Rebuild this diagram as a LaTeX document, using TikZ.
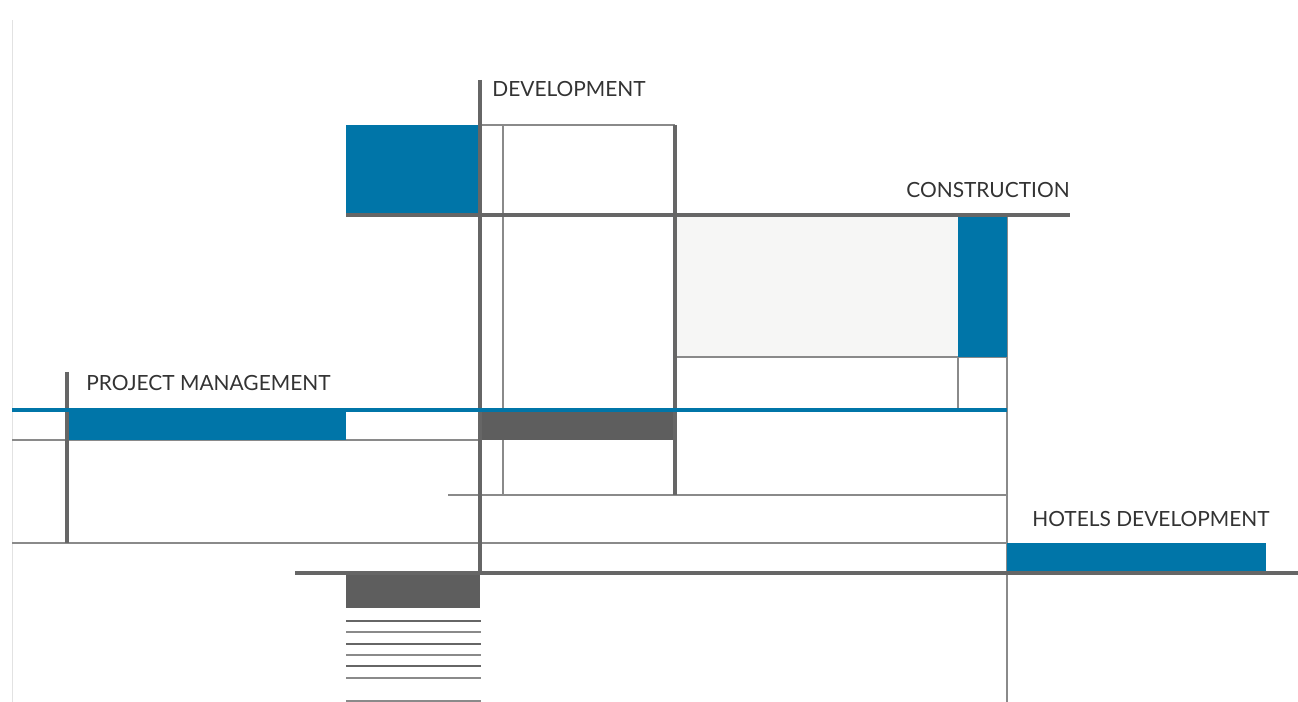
\documentclass[tikz,border=0pt]{standalone}
\usepackage{fontspec}
\setmainfont{Lato}
\usetikzlibrary{positioning}

\definecolor{pblue}{HTML}{0075A8}
\definecolor{pdark}{HTML}{5E5E5E}
\definecolor{pline}{HTML}{666666}
\definecolor{pthin}{HTML}{8A8A8A}
\definecolor{pfill}{HTML}{F6F6F5}

\begin{document}
\begin{tikzpicture}[x=0.02cm, y=-0.02cm]

        % styles for the grid of lines and blocks
        \tikzset{
            heavy/.style={pline, line width=1.9pt},
            light/.style={pthin, line width=0.8pt},
            bluebar/.style={fill=pblue, draw=none},
            greybar/.style={fill=pdark, draw=none},
            caption/.style={inner sep=0pt, anchor=base west, text=black!80,
                font=\fontsize{11.9}{14}\selectfont}
        }

        \useasboundingbox (0,0) rectangle (1298,702);
        \draw[pthin!25, line width=0.5pt] (12,20) -- (12,702);

        % labels
        \node[caption] (DEV) at (492,97) {DEVELOPMENT};
        \node[caption, anchor=base east] (CON) at (1070,198) {CONSTRUCTION};
        \node[caption] (PM) at (86,391) {PROJECT MANAGEMENT};
        \node[caption] (HD) at (1032,526) {HOTELS DEVELOPMENT};

        \fill[pfill] (676,216) rectangle (958,357);

        % thin lines
        \begin{scope}[light]
            \draw (480,125) -- (675,125);
            \draw (503,125) -- (503,495);
            \draw (675,357) -- (1007,357);
            \draw (958,357) -- (958,410);
            \draw (1007,216) -- (1007,702);
            \draw (12,440) -- (480,440);
            \draw (448,495) -- (1007,495);
            \draw (12,543) -- (1007,543);
            \foreach \y in {621,644,666}
            \draw[pline] (346,\y) -- (481,\y);
            \foreach \y in {632,655,678,701}
            \draw (346,\y) -- (481,\y);
        \end{scope}

        % filled blocks
        \begin{scope}
            \fill[bluebar] (346,125) rectangle (479,215);
            \fill[bluebar] (958,216) rectangle (1007,357);
            \fill[bluebar] (67,411) rectangle (346,440);
            \fill[bluebar] (1007,543) rectangle (1266,573);
            \fill[greybar] (480,411) rectangle (675,440);
            \fill[greybar] (346,573) rectangle (480,608);
        \end{scope}

        % heavy lines
        \begin{scope}[heavy]
            \draw (480,80) -- (480,573);
            \draw (675,125) -- (675,495);
            \draw (346,215) -- (1070,215);
            \draw (67,372) -- (67,543);
            \draw (295,573) -- (1298,573);
        \end{scope}

        \draw[pblue, line width=1.8pt] (12,410) -- (1007,410);

\end{tikzpicture}
\end{document}
